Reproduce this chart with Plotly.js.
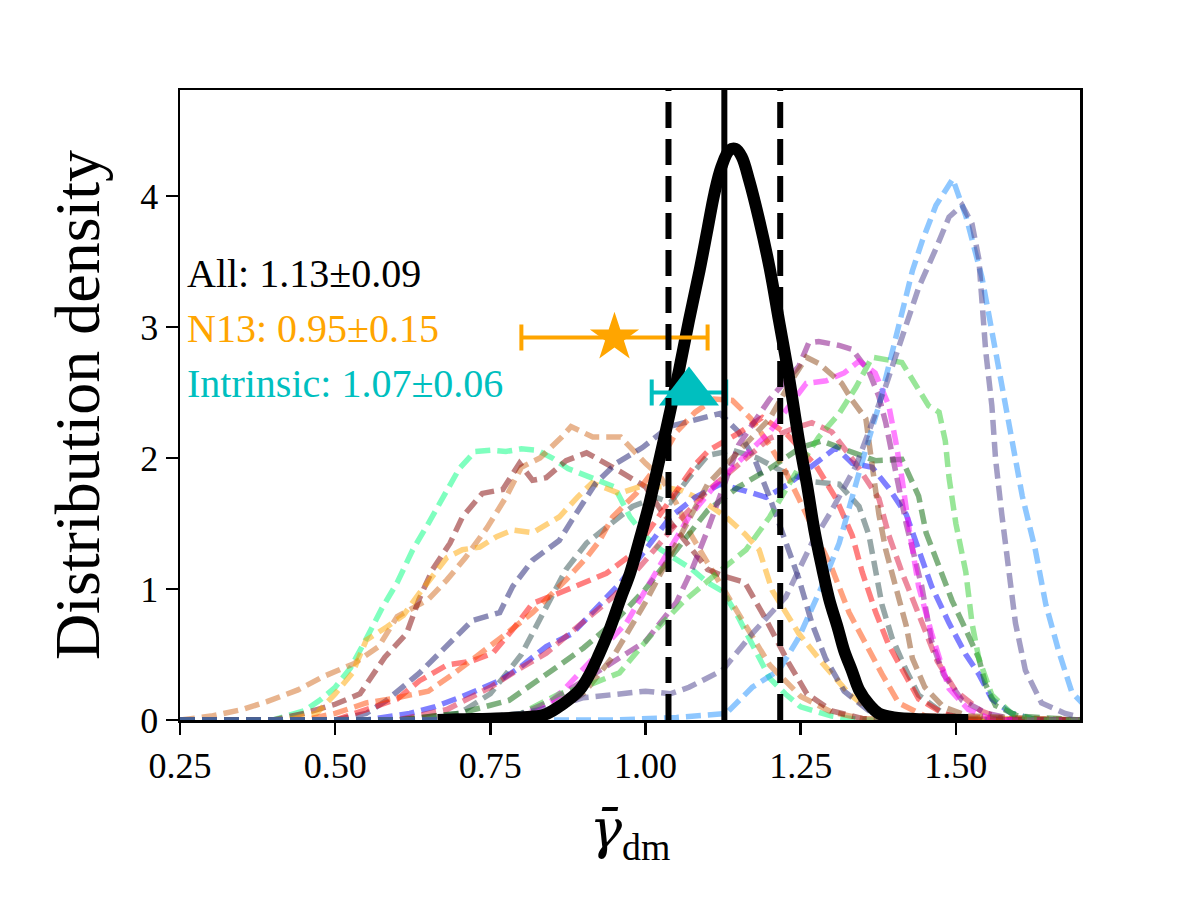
<!DOCTYPE html>
<html>
<head>
<meta charset="utf-8">
<script src="https://cdn.plot.ly/plotly-3.0.1.min.js"></script>
<style>html,body{margin:0;padding:0;background:#fff;}#chart{width:1200px;height:900px;}</style>
</head>
<body>
<div id="chart"></div>
<script>
// ---- data: [x, density] pairs ----
const springgreen = [[0.25,0],[0.40,0],[0.45,0.07],[0.475,0.15],[0.50,0.25],[0.525,0.4],[0.55,0.62],[0.575,0.85],[0.60,1.05],[0.625,1.3],[0.65,1.5],[0.675,1.7],[0.70,1.92],[0.725,2.05],[0.75,2.06],[0.775,2.05],[0.80,2.07],[0.825,2.06],[0.85,2.0],[0.875,1.92],[0.90,1.87],[0.925,1.82],[0.95,1.78],[0.975,1.55],[1.00,1.4],[1.025,1.3],[1.05,1.22],[1.075,1.15],[1.10,1.05],[1.125,0.98],[1.15,0.78],[1.175,0.55],[1.20,0.32],[1.225,0.2],[1.25,0.1],[1.30,0.03],[1.35,0],[1.70,0]];
const chocolate = [[0.25,0],[0.30,0.03],[0.35,0.08],[0.39,0.14],[0.44,0.23],[0.48,0.33],[0.53,0.43],[0.57,0.56],[0.60,0.79],[0.65,0.92],[0.68,1.07],[0.71,1.24],[0.745,1.47],[0.775,1.7],[0.80,1.93],[0.83,2.0],[0.865,2.16],[0.88,2.24],[0.915,2.16],[0.96,2.16],[1.0,1.96],[1.025,1.85],[1.05,1.65],[1.075,1.4],[1.10,1.2],[1.125,1.0],[1.15,0.8],[1.175,0.6],[1.20,0.42],[1.25,0.18],[1.30,0.06],[1.35,0.01],[1.70,0]];
const maroon = [[0.25,0],[0.40,0],[0.45,0.05],[0.50,0.12],[0.54,0.2],[0.58,0.48],[0.615,0.66],[0.635,0.92],[0.657,1.15],[0.685,1.35],[0.705,1.55],[0.737,1.73],[0.77,1.76],[0.797,1.96],[0.818,1.83],[0.84,1.85],[0.872,1.98],[0.905,2.04],[0.958,1.9],[1.0,1.78],[1.025,1.6],[1.05,1.45],[1.075,1.3],[1.10,1.15],[1.125,1.1],[1.16,1.05],[1.195,0.76],[1.23,0.44],[1.26,0.2],[1.30,0.07],[1.35,0.01],[1.70,0]];
const orange = [[0.25,0],[0.42,0],[0.47,0.05],[0.50,0.2],[0.528,0.36],[0.55,0.61],[0.583,0.71],[0.61,0.8],[0.636,0.97],[0.68,1.24],[0.705,1.3],[0.733,1.32],[0.76,1.4],[0.786,1.45],[0.818,1.43],[0.861,1.55],[0.89,1.7],[0.914,1.81],[0.958,1.73],[0.99,1.78],[1.027,1.78],[1.06,1.75],[1.09,1.68],[1.13,1.55],[1.16,1.42],[1.183,1.3],[1.204,0.99],[1.225,0.82],[1.247,0.66],[1.284,0.44],[1.328,0.2],[1.36,0.08],[1.40,0.02],[1.70,0]];
const midnightblue = [[0.25,0],[0.50,0],[0.55,0.05],[0.583,0.15],[0.636,0.36],[0.68,0.56],[0.721,0.76],[0.765,0.82],[0.786,1.02],[0.818,1.22],[0.861,1.37],[0.882,1.53],[0.92,1.81],[0.953,1.96],[0.995,2.08],[1.038,2.24],[1.075,2.29],[1.12,2.34],[1.15,2.2],[1.175,2.0],[1.20,1.7],[1.22,1.43],[1.247,1.08],[1.268,0.74],[1.29,0.47],[1.32,0.22],[1.36,0.07],[1.40,0.01],[1.70,0]];
const darkslategray = [[0.25,0],[0.60,0],[0.70,0.05],[0.75,0.2],[0.80,0.5],[0.818,0.66],[0.84,0.86],[0.872,1.15],[0.905,1.35],[0.937,1.47],[0.979,1.63],[1.017,1.7],[1.04,1.66],[1.07,1.85],[1.10,2.02],[1.14,2.06],[1.18,2.0],[1.22,1.9],[1.268,1.82],[1.312,1.8],[1.344,1.63],[1.36,1.41],[1.37,1.13],[1.381,0.88],[1.397,0.63],[1.42,0.38],[1.44,0.19],[1.48,0.05],[1.52,0],[1.70,0]];
const red = [[0.25,0],[0.50,0],[0.55,0.08],[0.60,0.16],[0.636,0.3],[0.68,0.42],[0.72,0.45],[0.754,0.51],[0.786,0.69],[0.818,0.89],[0.861,0.97],[0.90,1.05],[0.937,1.12],[0.979,1.27],[1.017,1.53],[1.05,1.75],[1.08,1.95],[1.102,2.06],[1.15,2.19],[1.188,2.31],[1.226,2.19],[1.275,1.94],[1.307,1.69],[1.333,1.41],[1.349,1.13],[1.371,0.82],[1.392,0.57],[1.42,0.33],[1.44,0.16],[1.48,0.05],[1.52,0],[1.70,0]];
const orangered = [[0.25,0],[0.45,0],[0.50,0.05],[0.55,0.13],[0.60,0.17],[0.65,0.22],[0.69,0.35],[0.721,0.46],[0.776,0.66],[0.818,0.82],[0.872,1.07],[0.905,1.24],[0.926,1.37],[0.947,1.55],[0.985,1.73],[1.02,1.95],[1.05,2.2],[1.08,2.35],[1.11,2.45],[1.14,2.44],[1.17,2.3],[1.20,2.1],[1.225,1.9],[1.247,1.69],[1.275,1.41],[1.30,1.16],[1.328,0.82],[1.355,0.57],[1.381,0.35],[1.408,0.13],[1.45,0.03],[1.70,0]];
const blue = [[0.25,0],[0.55,0],[0.62,0.05],[0.66,0.1],[0.705,0.18],[0.765,0.3],[0.797,0.4],[0.84,0.56],[0.882,0.66],[0.92,0.85],[0.96,1.05],[1.0,1.3],[1.04,1.55],[1.08,1.7],[1.12,1.8],[1.16,1.75],[1.194,1.7],[1.23,1.8],[1.275,1.96],[1.307,2.08],[1.333,1.96],[1.365,1.93],[1.392,1.77],[1.42,1.57],[1.44,1.3],[1.461,1.02],[1.489,0.74],[1.516,0.5],[1.537,0.35],[1.558,0.16],[1.59,0.05],[1.63,0],[1.70,0]];
const crimson = [[0.25,0],[0.60,0],[0.68,0.08],[0.75,0.25],[0.80,0.4],[0.84,0.51],[0.90,0.75],[0.95,0.95],[1.0,1.22],[1.05,1.5],[1.10,1.75],[1.15,1.95],[1.20,2.15],[1.235,2.22],[1.268,2.27],[1.30,2.2],[1.34,1.95],[1.376,1.69],[1.392,1.41],[1.413,1.13],[1.44,0.8],[1.47,0.45],[1.50,0.22],[1.54,0.07],[1.58,0],[1.70,0]];
const darkgreen = [[0.25,0],[0.60,0],[0.70,0.05],[0.78,0.15],[0.856,0.4],[0.90,0.55],[0.95,0.75],[1.0,1.0],[1.05,1.3],[1.10,1.6],[1.15,1.78],[1.20,1.92],[1.25,2.08],[1.284,2.13],[1.33,2.05],[1.37,1.98],[1.413,1.99],[1.44,1.71],[1.452,1.43],[1.473,1.16],[1.494,0.91],[1.516,0.69],[1.537,0.47],[1.548,0.27],[1.564,0.11],[1.60,0.03],[1.70,0]];
const purple = [[0.25,0],[0.70,0],[0.80,0.05],[0.85,0.15],[0.90,0.3],[0.95,0.45],[1.0,0.6],[1.05,0.9],[1.075,1.15],[1.10,1.45],[1.15,2.1],[1.20,2.45],[1.247,2.7],[1.263,2.88],[1.279,2.89],[1.312,2.86],[1.333,2.83],[1.36,2.66],[1.376,2.47],[1.387,2.27],[1.403,1.91],[1.42,1.5],[1.445,1.02],[1.461,0.6],[1.48,0.35],[1.51,0.15],[1.55,0.05],[1.60,0],[1.70,0]];
const magenta = [[0.25,0],[0.75,0],[0.80,0.03],[0.85,0.15],[0.872,0.25],[0.92,0.5],[0.969,0.74],[1.022,1.17],[1.07,1.55],[1.119,1.83],[1.151,1.98],[1.20,2.2],[1.259,2.57],[1.291,2.59],[1.32,2.65],[1.344,2.74],[1.37,2.65],[1.392,2.4],[1.403,2.13],[1.413,1.85],[1.425,1.45],[1.44,1.02],[1.461,0.66],[1.489,0.24],[1.52,0.08],[1.56,0],[1.70,0]];
const saddlebrown = [[0.25,0],[0.75,0],[0.85,0.05],[0.90,0.2],[0.95,0.5],[1.0,0.9],[1.05,1.35],[1.10,1.8],[1.15,2.05],[1.20,2.3],[1.23,2.55],[1.259,2.77],[1.28,2.72],[1.316,2.57],[1.333,2.44],[1.355,2.3],[1.365,1.95],[1.376,1.57],[1.387,1.3],[1.403,1.02],[1.42,0.72],[1.43,0.47],[1.45,0.25],[1.48,0.1],[1.52,0.03],[1.70,0]];
const limegreen = [[0.25,0],[0.70,0],[0.80,0.05],[0.861,0.2],[0.90,0.25],[0.958,0.36],[1.011,0.66],[1.06,0.9],[1.11,1.1],[1.162,1.3],[1.20,1.55],[1.25,1.95],[1.279,2.16],[1.312,2.34],[1.339,2.54],[1.365,2.77],[1.413,2.73],[1.456,2.4],[1.473,2.35],[1.483,2.13],[1.489,1.85],[1.50,1.5],[1.516,1.13],[1.526,0.74],[1.537,0.47],[1.558,0.19],[1.59,0.05],[1.63,0],[1.70,0]];
const dodgerblue = [[0.25,0],[0.95,0],[1.05,0.02],[1.10,0.04],[1.13,0.05],[1.172,0.25],[1.215,0.38],[1.247,0.63],[1.284,1.02],[1.312,1.35],[1.333,1.71],[1.355,2.07],[1.376,2.4],[1.397,2.79],[1.413,3.1],[1.43,3.43],[1.446,3.66],[1.468,3.93],[1.495,4.13],[1.516,3.85],[1.542,3.38],[1.558,2.96],[1.574,2.52],[1.59,2.13],[1.607,1.71],[1.628,1.3],[1.645,0.88],[1.666,0.52],[1.687,0.21],[1.72,0.05]];
const darkslateblue = [[0.25,0],[0.70,0],[0.80,0.05],[0.85,0.1],[0.90,0.17],[0.95,0.2],[1.0,0.22],[1.04,0.2],[1.07,0.25],[1.124,0.38],[1.172,0.66],[1.226,0.94],[1.268,1.35],[1.30,1.6],[1.34,1.95],[1.387,2.55],[1.413,2.91],[1.44,3.3],[1.468,3.6],[1.489,3.84],[1.51,3.93],[1.526,3.79],[1.537,3.52],[1.542,3.18],[1.548,2.82],[1.558,2.4],[1.564,1.99],[1.574,1.57],[1.585,1.16],[1.596,0.74],[1.612,0.38],[1.638,0.13],[1.676,0.05],[1.70,0.02]];
const combined = [[0.665,0],[0.70,0.005],[0.75,0.01],[0.80,0.02],[0.837,0.04],[0.86,0.1],[0.875,0.15],[0.894,0.23],[0.91,0.35],[0.925,0.5],[0.942,0.69],[0.96,0.93],[0.975,1.12],[0.99,1.37],[1.005,1.63],[1.022,1.98],[1.038,2.32],[1.054,2.67],[1.07,3.05],[1.087,3.43],[1.10,3.75],[1.111,4.02],[1.122,4.22],[1.135,4.35],[1.145,4.36],[1.155,4.3],[1.167,4.12],[1.183,3.82],[1.20,3.45],[1.215,3.05],[1.23,2.65],[1.247,2.14],[1.26,1.8],[1.272,1.45],[1.285,1.15],[1.296,0.92],[1.31,0.7],[1.32,0.53],[1.333,0.37],[1.344,0.23],[1.36,0.12],[1.376,0.05],[1.40,0.02],[1.45,0.005],[1.52,0]];

const curveNames = ['springgreen','chocolate','maroon','orange','midnightblue','darkslategray','red','orangered','blue','crimson','darkgreen','purple','magenta','saddlebrown','limegreen','dodgerblue','darkslateblue'];
const curveData = [springgreen,chocolate,maroon,orange,midnightblue,darkslategray,red,orangered,blue,crimson,darkgreen,purple,magenta,saddlebrown,limegreen,dodgerblue,darkslateblue];

const allMedian = 1.127;
const allBand = [1.037, 1.217];

const n13X = [0.95], n13Y = [2.92], n13Err = [0.15];
const intrX = [1.07], intrY = [2.50], intrErr = [0.06];

const labelTexts = ['All: 1.13±0.09', 'N13: 0.95±0.15', 'Intrinsic: 1.07±0.06'];
const labelColors = ['#000000', '#FFA500', '#00BFBF'];
const labelX = [0.258, 0.258, 0.258];
const labelY = [3.41, 2.99, 2.57];

const xTicks = [0.25, 0.50, 0.75, 1.00, 1.25, 1.50];
const yTicks = [0, 1, 2, 3, 4];

// ---- build ----
const traces = [];
curveData.forEach((c, i) => {
  traces.push({
    x: c.map(p => p[0]), y: c.map(p => p[1]),
    type: 'scatter', mode: 'lines', opacity: 0.5,
    line: {color: curveNames[i], width: 5.5, dash: '15px,7px'},
    hoverinfo: 'skip', showlegend: false
  });
});
traces.push({
  x: combined.map(p => p[0]), y: combined.map(p => p[1]),
  type: 'scatter', mode: 'lines',
  line: {color: '#000', width: 12, shape: 'spline', smoothing: 1},
  showlegend: false
});
traces.push({
  x: n13X, y: n13Y, type: 'scatter', mode: 'markers',
  marker: {symbol: 'star', size: 37, color: '#FFA500'},
  error_x: {type: 'data', array: n13Err, color: '#FFA500', thickness: 4, width: 13},
  showlegend: false
});
traces.push({
  x: intrX, y: intrY, type: 'scatter', mode: 'markers',
  marker: {symbol: 'triangle-up', size: 52, color: '#00BFBF'},
  error_x: {type: 'data', array: intrErr, color: '#00BFBF', thickness: 4, width: 13},
  showlegend: false
});

const shapes = [
  {type: 'line', xref: 'x', yref: 'paper', x0: allMedian, x1: allMedian, y0: 0, y1: 1, line: {color: '#000', width: 6}},
  {type: 'line', xref: 'x', yref: 'paper', x0: allBand[0], x1: allBand[0], y0: 0, y1: 1, line: {color: '#000', width: 6, dash: '26px,11px'}},
  {type: 'line', xref: 'x', yref: 'paper', x0: allBand[1], x1: allBand[1], y0: 0, y1: 1, line: {color: '#000', width: 6, dash: '26px,11px'}}
];

const annotations = labelTexts.map((t, i) => ({
  x: labelX[i], y: labelY[i], xref: 'x', yref: 'y', text: t, showarrow: false,
  xanchor: 'left', yanchor: 'middle',
  font: {family: 'Liberation Serif', size: 40, color: labelColors[i]}
}));

const layout = {
  width: 1200, height: 900,
  margin: {l: 180, r: 120, t: 90, b: 180},
  paper_bgcolor: '#fff', plot_bgcolor: '#fff',
  font: {family: 'Liberation Serif', color: '#000'},
  showlegend: false,
  xaxis: {
    range: [0.25, 1.70], tickvals: xTicks, ticktext: xTicks.map(v => v.toFixed(2)),
    ticks: 'outside', ticklen: 12, tickwidth: 2.5, tickcolor: '#000',
    showline: true, linewidth: 2.5, linecolor: '#000', mirror: true,
    showgrid: false, zeroline: false,
    tickfont: {family: 'Liberation Serif', size: 36, color: '#000'},
    title: {text: '<span style="font-family:DejaVu Serif"><i>γ̄</i></span><sub>dm</sub>', font: {family: 'Liberation Serif', size: 54, color: '#000'}, standoff: 26}
  },
  yaxis: {
    range: [0, 4.81], tickvals: yTicks,
    ticks: 'outside', ticklen: 12, tickwidth: 2.5, tickcolor: '#000',
    showline: true, linewidth: 2.5, linecolor: '#000', mirror: true,
    showgrid: false, zeroline: false,
    tickfont: {family: 'Liberation Serif', size: 36, color: '#000'},
    title: {text: 'Distribution density', font: {family: 'Liberation Serif', size: 64, color: '#000'}, standoff: 20}
  },
  shapes: shapes,
  annotations: annotations
};

Plotly.newPlot('chart', traces, layout, {displayModeBar: false, staticPlot: true});
</script>
</body>
</html>
